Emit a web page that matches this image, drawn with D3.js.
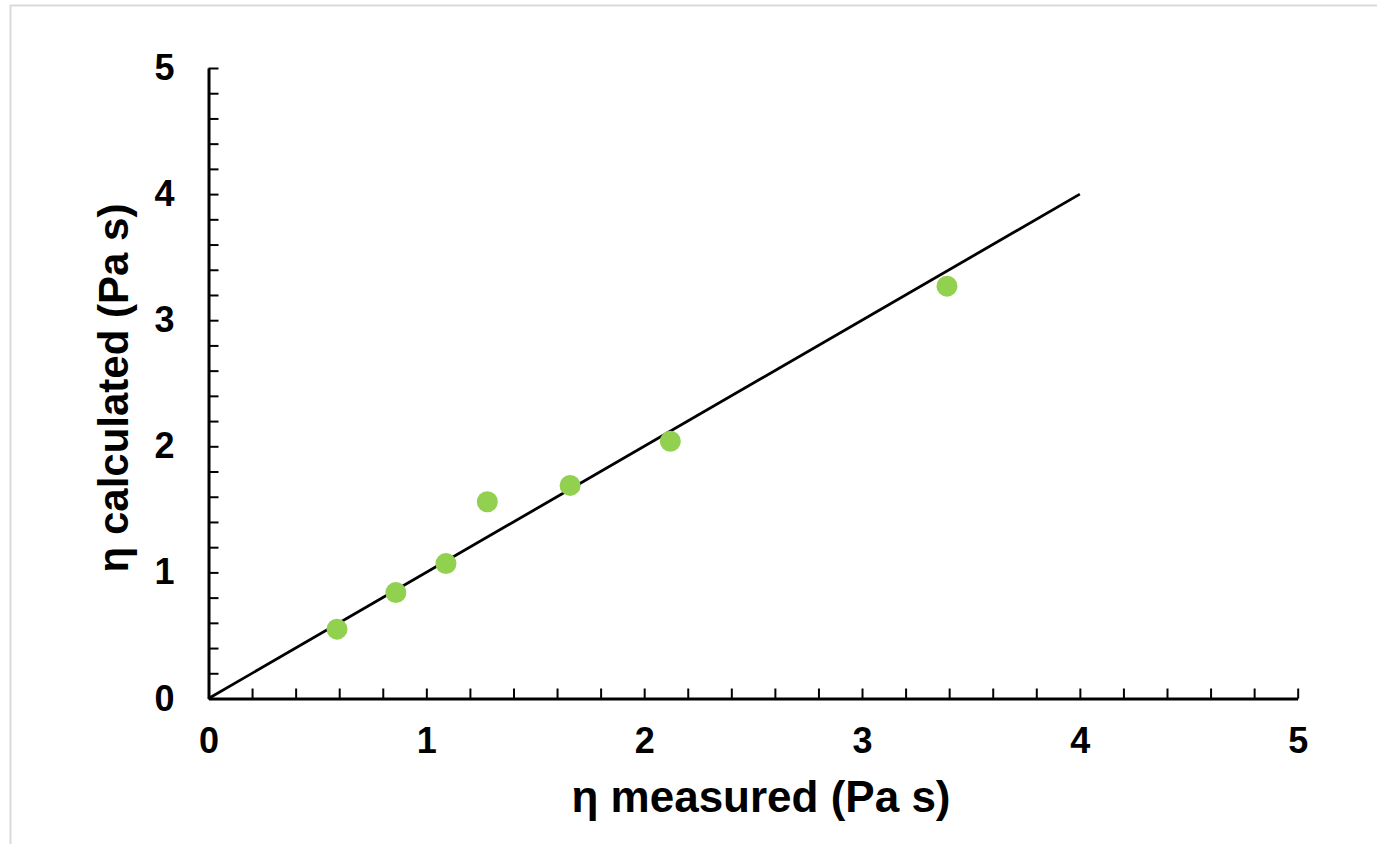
<!DOCTYPE html>
<html>
<head>
<meta charset="utf-8">
<script src="https://cdn.jsdelivr.net/npm/d3@7"></script>
<style>
  html, body { margin: 0; padding: 0; background: #fff; }
  svg { display: block; }
  text { font-family: "Liberation Sans", Arial, Helvetica, sans-serif; font-weight: bold; fill: #000; }
</style>
</head>
<body>
<svg id="chart" width="1377" height="844"></svg>
<script>
// ---- data ----
const measured   = [0.59, 0.86, 1.09, 1.28, 1.66, 2.12, 3.39];
const calculated = [0.55, 0.84, 1.07, 1.56, 1.69, 2.04, 3.27];
const parityLineX = [0, 4];
const xTickLabels = [0, 1, 2, 3, 4, 5];
const yTickLabels = [0, 1, 2, 3, 4, 5];
const xTitle = "η measured (Pa s)";
const yTitle = "η calculated (Pa s)";

const svg = d3.select("#chart");

// frame border
svg.append("rect")
  .attr("x", 10.5).attr("y", 5.5)
  .attr("width", 1400).attr("height", 900)
  .attr("fill", "none").attr("stroke", "#dadada").attr("stroke-width", 2);

const x = d3.scaleLinear().domain([0, 5]).range([208.5, 1297.7]);
const y = d3.scaleLinear().domain([0, 5]).range([698.5, 68]);

const minorTicks = d3.range(0, 26).map(i => i * 0.2);
const isLabel = (d, list) => Math.abs(d - Math.round(d)) < 1e-6 && list.includes(Math.round(d));

// y axis
const gy = svg.append("g").attr("transform", `translate(${x(0)},0)`)
  .call(d3.axisLeft(y).tickValues(minorTicks).tickSizeInner(-10).tickSizeOuter(0)
    .tickPadding(34).tickFormat(d => isLabel(d, yTickLabels) ? String(Math.round(d)) : ""));
// x axis
const gx = svg.append("g").attr("transform", `translate(0,${y(0)})`)
  .call(d3.axisBottom(x).tickValues(minorTicks).tickSizeInner(-10).tickSizeOuter(0)
    .tickPadding(29).tickFormat(d => isLabel(d, xTickLabels) ? String(Math.round(d)) : ""));

[gx, gy].forEach(g => {
  g.attr("font-family", null).attr("font-size", null);
  g.select(".domain").attr("stroke", "#000").attr("stroke-width", 3);
  g.selectAll(".tick line").attr("stroke", "#000").attr("stroke-width", 2);
  g.selectAll(".tick text").attr("fill", "#000").style("font-size", "36px");
});

// parity line
svg.append("line")
  .attr("x1", x(parityLineX[0])).attr("y1", y(parityLineX[0]))
  .attr("x2", x(parityLineX[1])).attr("y2", y(parityLineX[1]))
  .attr("stroke", "#000").attr("stroke-width", 2.8);

// points
svg.append("g").selectAll("circle")
  .data(measured.map((m, i) => ({ m, c: calculated[i] })))
  .join("circle")
  .attr("cx", d => x(d.m)).attr("cy", d => y(d.c))
  .attr("r", 10.5).attr("fill", "#92d050");

// axis titles
svg.append("text")
  .attr("x", 761).attr("y", 812)
  .attr("text-anchor", "middle")
  .style("font-size", "44px")
  .text(xTitle);

svg.append("text")
  .attr("transform", "translate(128,388) rotate(-90)")
  .attr("text-anchor", "middle")
  .style("font-size", "42px")
  .text(yTitle);
</script>
</body>
</html>
